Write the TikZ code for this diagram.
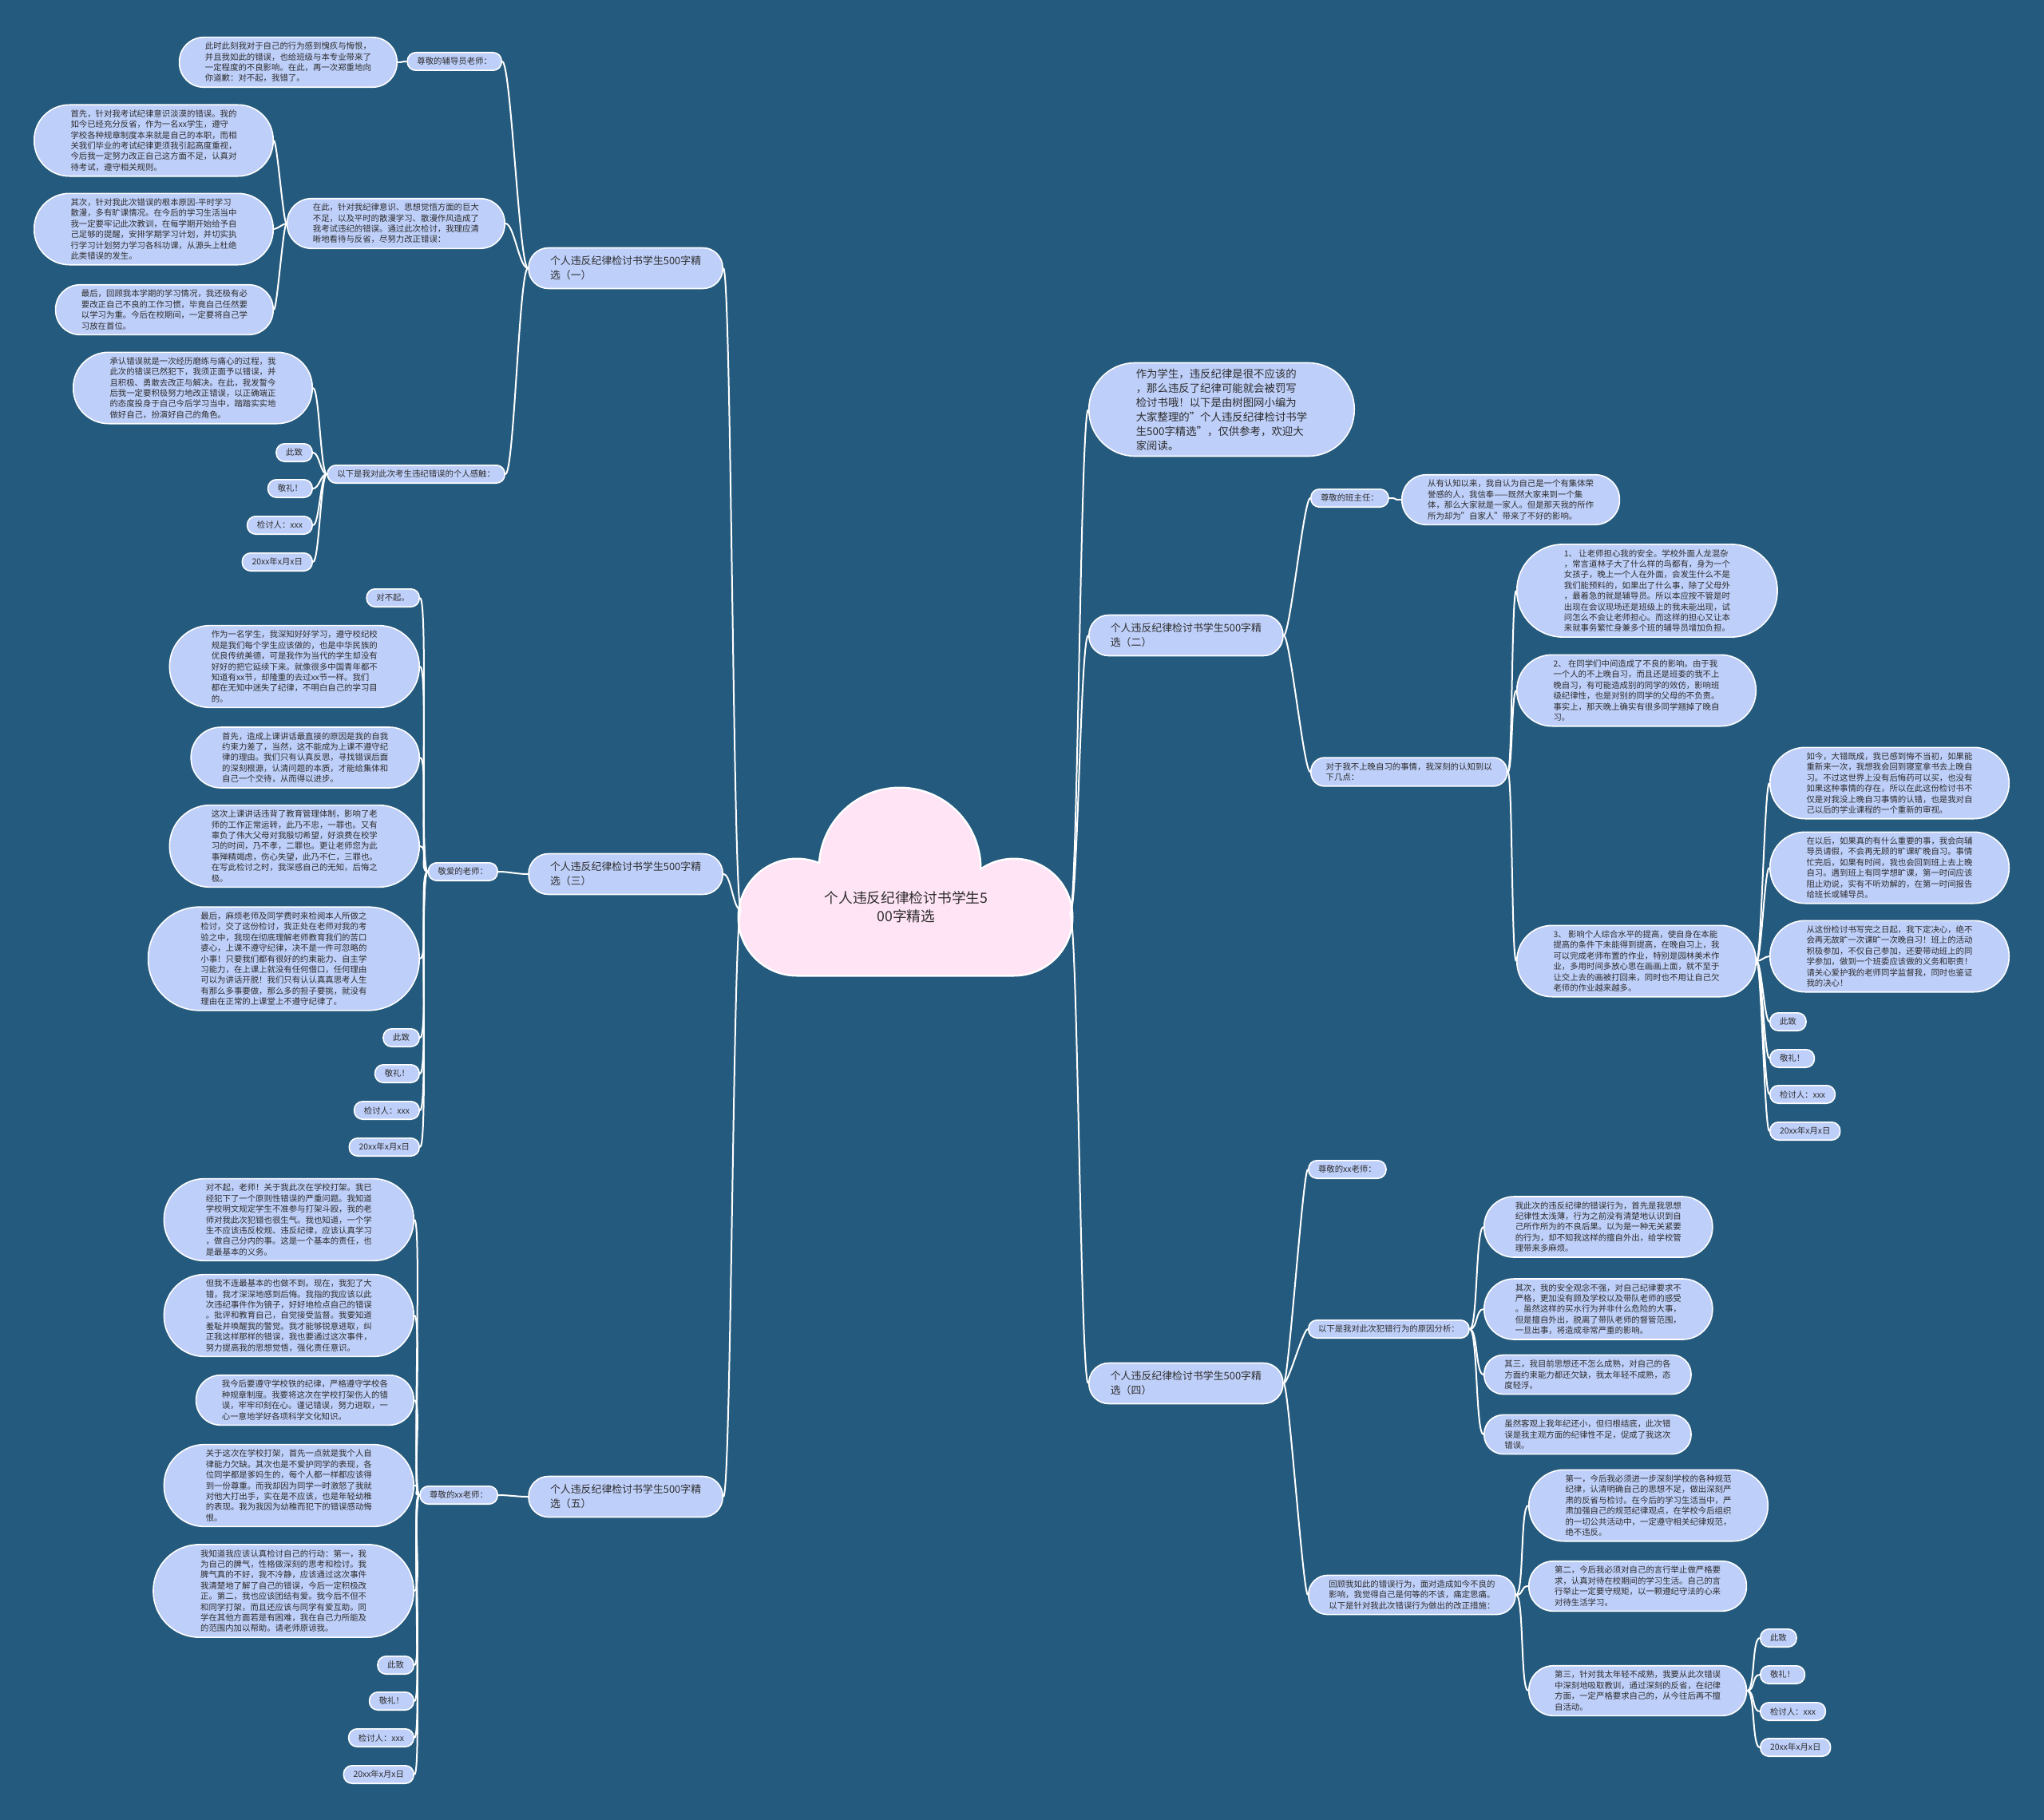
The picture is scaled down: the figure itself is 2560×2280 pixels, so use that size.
\documentclass[tikz,border=0pt]{standalone}
\usepackage{fontspec}
\setmainfont{Noto Sans CJK SC}

\definecolor{bgblue}{RGB}{36,90,125}
\definecolor{pillblue}{RGB}{190,207,249}
\definecolor{cloudpink}{RGB}{255,228,245}
\definecolor{inkgray}{RGB}{45,45,45}

\tikzset{
  pill/.style={rectangle, fill=pillblue, draw=white, line width=1.6pt,
    text=inkgray, align=left, inner ysep=0pt},
  leaf/.style={pill, font=\fontsize{10.4}{13.4}\selectfont,
    minimum height=13.4*#1+9, rounded corners=(13.4*#1+9)/2-0.6,
    inner xsep=(13.4*#1+9)/2+1},
  leaf/.default=1,
  topic/.style={pill, font=\fontsize{12.9}{18}\selectfont,
    minimum height=51, rounded corners=24.9, inner xsep=27},
  intro/.style={pill, font=\fontsize{13.4}{18}\selectfont,
    minimum height=117, rounded corners=57.9, inner xsep=59},
  link/.style={draw=white, line width=2pt},
  lft/.style={out=180, in=0, distance=#1},
  rgt/.style={out=0, in=180, distance=#1},
}

\begin{document}
\begin{tikzpicture}[x=1pt,y=-1pt]
    \fill[bgblue] (0,0) rectangle (2560,2280);
    \useasboundingbox (0,0) rectangle (2560,2280);

    % centre cloud
    \fill[white] (1127,1088) circle (102.5pt) (998,1149) circle (74.5pt)
      (1270,1149) circle (74.5pt) (998,1099) rectangle (1270,1223.5);
    \fill[cloudpink] (1127,1088) circle (100pt) (998,1149) circle (72pt)
      (1270,1149) circle (72pt) (998,1099) rectangle (1270,1221);
    \node[text=inkgray, font=\fontsize{17.7}{23}\selectfont, align=center] (root) at (1135,1136)
      {个人违反纪律检讨书学生5\\00字精选};
    \coordinate (cl) at (928,1140);
    \coordinate (cr) at (1340,1145);

    % branch one
    \node[topic, anchor=east] (b1) at (906,336) {个人违反纪律检讨书学生500字精\\选（一）};
    \node[leaf, anchor=east] (b1a) at (629,77) {尊敬的辅导员老师：};
    \node[leaf=4, anchor=east] (b1a1) at (498,78) {此时此刻我对于自己的行为感到愧疚与悔恨，\\
      并且我如此的错误，也给班级与本专业带来了\\
      一定程度的不良影响。在此，再一次郑重地向\\
      你道歉：对不起，我错了。};
    \node[leaf=4, anchor=east] (b1b) at (633,280) {在此，针对我纪律意识、思想觉悟方面的巨大\\
      不足，以及平时的散漫学习、散漫作风造成了\\
      我考试违纪的错误。通过此次检讨，我理应清\\
      晰地看待与反省，尽努力改正错误：};
    \node[leaf=6, anchor=east] (b1b1) at (343,176) {首先，针对我考试纪律意识淡漠的错误。我的\\
      如今已经充分反省，作为一名xx学生，遵守\\
      学校各种规章制度本来就是自己的本职，而相\\
      关我们毕业的考试纪律更须我引起高度重视，\\
      今后我一定努力改正自己这方面不足，认真对\\
      待考试，遵守相关规则。};
    \node[leaf=6, anchor=east] (b1b2) at (343,287) {其次，针对我此次错误的根本原因-平时学习\\
      散漫，多有旷课情况。在今后的学习生活当中\\
      我一定要牢记此次教训，在每学期开始给予自\\
      己足够的提醒，安排学期学习计划，并切实执\\
      行学习计划努力学习各科功课，从源头上杜绝\\
      此类错误的发生。};
    \node[leaf=4, anchor=east] (b1b3) at (343,388) {最后，回顾我本学期的学习情况，我还极有必\\
      要改正自己不良的工作习惯，毕竟自己任然要\\
      以学习为重。今后在校期间，一定要将自己学\\
      习放在首位。};
    \node[leaf, anchor=east] (b1c) at (633,594) {以下是我对此次考生违纪错误的个人感触：};
    \node[leaf=6, anchor=east] (b1c1) at (392,486) {承认错误就是一次经历磨练与痛心的过程，我\\
      此次的错误已然犯下，我须正面予以错误，并\\
      且积极、勇敢去改正与解决。在此，我发誓今\\
      后我一定要积极努力地改正错误，以正确端正\\
      的态度投身于自己今后学习当中，踏踏实实地\\
      做好自己，扮演好自己的角色。};
    \foreach \t/\y [count=\i from 2] in {此致/567, 敬礼！/612, 检讨人：xxx/658, 20xx年x月x日/704}
      \node[leaf, anchor=east] (b1c\i) at (392,\y) {\t};

    % branch three
    \node[topic, anchor=east] (b3) at (906,1095) {个人违反纪律检讨书学生500字精\\选（三）};
    \node[leaf, anchor=east] (b3a) at (624,1092) {敬爱的老师：};
    \node[leaf, anchor=east] (b3a1) at (526,749) {对不起。};
    \node[leaf=7, anchor=east] (b3a2) at (526,835) {作为一名学生，我深知好好学习，遵守校纪校\\
      规是我们每个学生应该做的，也是中华民族的\\
      优良传统美德，可是我作为当代的学生却没有\\
      好好的把它延续下来。就像很多中国青年都不\\
      知道有xx节，却隆重的去过xx节一样。我们\\
      都在无知中迷失了纪律，不明白自己的学习目\\
      的。};
    \node[leaf=5, anchor=east] (b3a3) at (526,949) {首先，造成上课讲话最直接的原因是我的自我\\
      约束力差了，当然，这不能成为上课不遵守纪\\
      律的理由。我们只有认真反思，寻找错误后面\\
      的深刻根源，认清问题的本质，才能给集体和\\
      自己一个交待，从而得以进步。};
    \node[leaf=7, anchor=east] (b3a4) at (526,1060) {这次上课讲话违背了教育管理体制，影响了老\\
      师的工作正常运转，此乃不忠，一罪也。又有\\
      辜负了伟大父母对我殷切希望，好浪费在校学\\
      习的时间，乃不孝，二罪也。更让老师您为此\\
      事殚精竭虑，伤心失望，此乃不仁，三罪也。\\
      在写此检讨之时，我深感自己的无知，后悔之\\
      极。};
    \node[leaf=9, anchor=east] (b3a5) at (526,1201) {最后，麻烦老师及同学费时来检阅本人所做之\\
      检讨，交了这份检讨，我正处在老师对我的考\\
      验之中，我现在彻底理解老师教育我们的苦口\\
      婆心，上课不遵守纪律，决不是一件可忽略的\\
      小事！只要我们都有很好的约束能力、自主学\\
      习能力，在上课上就没有任何借口，任何理由\\
      可以为讲话开脱！我们只有认认真真思考人生\\
      有那么多事要做，那么多的担子要挑，就没有\\
      理由在正常的上课堂上不遵守纪律了。};
    \foreach \t/\y [count=\i from 6] in {此致/1300, 敬礼！/1345, 检讨人：xxx/1391, 20xx年x月x日/1437}
      \node[leaf, anchor=east] (b3a\i) at (526,\y) {\t};

    % branch five
    \node[topic, anchor=east] (b5) at (906,1875) {个人违反纪律检讨书学生500字精\\选（五）};
    \node[leaf, anchor=east] (b5a) at (624,1873) {尊敬的xx老师：};
    \node[leaf=7, anchor=east] (b5a1) at (519,1528) {对不起，老师！关于我此次在学校打架。我已\\
      经犯下了一个原则性错误的严重问题。我知道\\
      学校明文规定学生不准参与打架斗殴，我的老\\
      师对我此次犯错也很生气。我也知道，一个学\\
      生不应该违反校规、违反纪律，应该认真学习\\
      ，做自己分内的事。这是一个基本的责任，也\\
      是最基本的义务。};
    \node[leaf=7, anchor=east] (b5a2) at (519,1648) {但我不连最基本的也做不到。现在，我犯了大\\
      错，我才深深地感到后悔。我指的我应该以此\\
      次违纪事件作为镜子，好好地检点自己的错误\\
      。批评和教育自己，自觉接受监督。我要知道\\
      羞耻并唤醒我的警觉。我才能够锐意进取，纠\\
      正我这样那样的错误，我也要通过这次事件，\\
      努力提高我的思想觉悟，强化责任意识。};
    \node[leaf=4, anchor=east] (b5a3) at (519,1754) {我今后要遵守学校铁的纪律，严格遵守学校各\\
      种规章制度。我要将这次在学校打架伤人的错\\
      误，牢牢印刻在心。谨记错误，努力进取，一\\
      心一意地学好各项科学文化知识。};
    \node[leaf=7, anchor=east] (b5a4) at (519,1861) {关于这次在学校打架，首先一点就是我个人自\\
      律能力欠缺。其次也是不爱护同学的表现，各\\
      位同学都是爹妈生的，每个人都一样都应该得\\
      到一份尊重。而我却因为同学一时激怒了我就\\
      对他大打出手，实在是不应该，也是年轻幼稚\\
      的表现。我为我因为幼稚而犯下的错误感动悔\\
      恨。};
    \node[leaf=8, anchor=east] (b5a5) at (519,1993) {我知道我应该认真检讨自己的行动：第一，我\\
      为自己的脾气，性格做深刻的思考和检讨。我\\
      脾气真的不好，我不冷静，应该通过这次事件\\
      我清楚地了解了自己的错误，今后一定积极改\\
      正。第二，我也应该团结有爱。我今后不但不\\
      和同学打架，而且还应该与同学有爱互助。同\\
      学在其他方面若是有困难，我在自己力所能及\\
      的范围内加以帮助。请老师原谅我。};
    \foreach \t/\y [count=\i from 6] in {此致/2086, 敬礼！/2131, 检讨人：xxx/2177, 20xx年x月x日/2223}
      \node[leaf, anchor=east] (b5a\i) at (519,\y) {\t};

    % intro
    \node[intro, anchor=west] (intro) at (1363,513) {作为学生，违反纪律是很不应该的\\
      ，那么违反了纪律可能就会被罚写\\
      检讨书哦！以下是由树图网小编为\\
      大家整理的"个人违反纪律检讨书学\\
      生500字精选"，仅供参考，欢迎大\\
      家阅读。};

    % branch two
    \node[topic, anchor=west] (b2) at (1363,796) {个人违反纪律检讨书学生500字精\\选（二）};
    \node[leaf, anchor=west] (b2a) at (1641,624) {尊敬的班主任：};
    \node[leaf=4, anchor=west] (b2a1) at (1755,626) {从有认知以来，我自认为自己是一个有集体荣\\
      誉感的人，我信奉——既然大家来到一个集\\
      体，那么大家就是一家人。但是那天我的所作\\
      所为却为"自家人"带来了不好的影响。};
    \node[leaf=2, anchor=west] (b2b) at (1641,967) {对于我不上晚自习的事情，我深刻的认知到以\\
      下几点：};
    \node[leaf=8, anchor=west] (b2b1) at (1899,740) {1、 让老师担心我的安全。学校外面人龙混杂\\
      ，常言道林子大了什么样的鸟都有，身为一个\\
      女孩子，晚上一个人在外面，会发生什么不是\\
      我们能预料的，如果出了什么事，除了父母外\\
      ，最着急的就是辅导员。所以本应按不管是时\\
      出现在会议现场还是班级上的我未能出现，试\\
      问怎么不会让老师担心。而这样的担心又让本\\
      来就事务繁忙身兼多个班的辅导员增加负担。};
    \node[leaf=6, anchor=west] (b2b2) at (1899,865) {2、 在同学们中间造成了不良的影响。由于我\\
      一个人的不上晚自习，而且还是班委的我不上\\
      晚自习，有可能造成别的同学的效仿，影响班\\
      级纪律性，也是对别的同学的父母的不负责。\\
      事实上，那天晚上确实有很多同学翘掉了晚自\\
      习。};
    \node[leaf=6, anchor=west] (b2b3) at (1899,1204) {3、 影响个人综合水平的提高，使自身在本能\\
      提高的条件下未能得到提高，在晚自习上，我\\
      可以完成老师布置的作业，特别是园林美术作\\
      业，多用时间多放心思在画画上面，就不至于\\
      让交上去的画被打回来，同时也不用让自己欠\\
      老师的作业越来越多。};
    \node[leaf=6, anchor=west] (b2b31) at (2216,981) {如今，大错既成，我已感到悔不当初，如果能\\
      重新来一次，我想我会回到寝室拿书去上晚自\\
      习。不过这世界上没有后悔药可以买，也没有\\
      如果这种事情的存在，所以在此这份检讨书不\\
      仅是对我没上晚自习事情的认错，也是我对自\\
      己以后的学业课程的一个重新的审视。};
    \node[leaf=6, anchor=west] (b2b32) at (2216,1087) {在以后，如果真的有什么重要的事，我会向辅\\
      导员请假，不会再无顾的旷课旷晚自习。事情\\
      忙完后，如果有时间，我也会回到班上去上晚\\
      自习。遇到班上有同学想旷课，第一时间应该\\
      阻止劝说，实有不听劝解的，在第一时间报告\\
      给班长或辅导员。};
    \node[leaf=6, anchor=west] (b2b33) at (2216,1198) {从这份检讨书写完之日起，我下定决心，绝不\\
      会再无故旷一次课旷一次晚自习！班上的活动\\
      积极参加，不仅自己参加，还要带动班上的同\\
      学参加，做到一个班委应该做的义务和职责！\\
      请关心爱护我的老师同学监督我，同时也鉴证\\
      我的决心！};
    \foreach \t/\y [count=\i from 4] in {此致/1280, 敬礼！/1326, 检讨人：xxx/1371, 20xx年x月x日/1417}
      \node[leaf, anchor=west] (b2b3\i) at (2216,\y) {\t};

    % branch four
    \node[topic, anchor=west] (b4) at (1363,1733) {个人违反纪律检讨书学生500字精\\选（四）};
    \node[leaf, anchor=west] (b4a) at (1638,1465) {尊敬的xx老师：};
    \node[leaf, anchor=west] (b4b) at (1638,1665) {以下是我对此次犯错行为的原因分析：};
    \node[leaf=5, anchor=west] (b4b1) at (1858,1537) {我此次的违反纪律的错误行为，首先是我思想\\
      纪律性太浅薄，行为之前没有清楚地认识到自\\
      己所作所为的不良后果。以为是一种无关紧要\\
      的行为，却不知我这样的擅自外出，给学校管\\
      理带来多麻烦。};
    \node[leaf=5, anchor=west] (b4b2) at (1858,1640) {其次，我的安全观念不强，对自己纪律要求不\\
      严格，更加没有顾及学校以及带队老师的感受\\
      。虽然这样的买水行为并非什么危险的大事，\\
      但是擅自外出，脱离了带队老师的督管范围，\\
      一旦出事，将造成非常严重的影响。};
    \node[leaf=3, anchor=west] (b4b3) at (1858,1722) {其三，我目前思想还不怎么成熟，对自己的各\\
      方面约束能力都还欠缺，我太年轻不成熟，态\\
      度轻浮。};
    \node[leaf=3, anchor=west] (b4b4) at (1858,1797) {虽然客观上我年纪还小，但归根结底，此次错\\
      误是我主观方面的纪律性不足，促成了我这次\\
      错误。};
    \node[leaf=3, anchor=west] (b4c) at (1638,1998) {回顾我如此的错误行为，面对造成如今不良的\\
      影响，我觉得自己是何等的不该，痛定思痛。\\
      以下是针对我此次错误行为做出的改正措施：};
    \node[leaf=6, anchor=west] (b4c1) at (1914,1886) {第一，今后我必须进一步深刻学校的各种规范\\
      纪律，认清明确自己的思想不足，做出深刻严\\
      肃的反省与检讨。在今后的学习生活当中，严\\
      肃加强自己的规范纪律观点，在学校今后组织\\
      的一切公共活动中，一定遵守相关纪律规范，\\
      绝不违反。};
    \node[leaf=4, anchor=west] (b4c2) at (1914,1987) {第二，今后我必须对自己的言行举止做严格要\\
      求，认真对待在校期间的学习生活。自己的言\\
      行举止一定要守规矩，以一颗遵纪守法的心来\\
      对待生活学习。};
    \node[leaf=4, anchor=west] (b4c3) at (1914,2118) {第三，针对我太年轻不成熟，我要从此次错误\\
      中深刻地吸取教训，通过深刻的反省，在纪律\\
      方面，一定严格要求自己的，从今往后再不擅\\
      自活动。};
    \foreach \t/\y [count=\i from 1] in {此致/2052, 敬礼！/2098, 检讨人：xxx/2144, 20xx年x月x日/2189}
      \node[leaf, anchor=west] (b4c3\i) at (2204,\y) {\t};

    % connectors, left half
    \foreach \b in {b1,b3,b5}
      \draw[link] (cl) to[lft=10pt] (\b.east);
    \foreach \c in {b1a,b1b,b1c}
      \draw[link] (b1.west) to[lft=11pt] (\c.east);
    \draw[link] (b1a.west) to[lft=8pt] (b1a1.east);
    \foreach \i in {1,2,3}
      \draw[link] (b1b.west) to[lft=4pt] (b1b\i.east);
    \foreach \i in {1,...,5}
      \draw[link] (b1c.west) to[lft=8pt] (b1c\i.east);
    \draw[link] (b3.west) to[lft=14pt] (b3a.east);
    \foreach \i in {1,...,9}
      \draw[link] (b3a.west) to[lft=11pt] (b3a\i.east);
    \draw[link] (b5.west) to[lft=14pt] (b5a.east);
    \foreach \i in {1,...,9}
      \draw[link] (b5a.west) to[lft=10pt] (b5a\i.east);

    % connectors, right half
    \foreach \b in {intro,b2,b4}
      \draw[link] (cr) to[rgt=10pt] (\b.west);
    \foreach \c in {b2a,b2b}
      \draw[link] (b2.east) to[rgt=8pt] (\c.west);
    \draw[link] (b2a.east) to[rgt=14pt] (b2a1.west);
    \foreach \i in {1,2,3}
      \draw[link] (b2b.east) to[rgt=6pt] (b2b\i.west);
    \foreach \i in {1,...,7}
      \draw[link] (b2b3.east) to[rgt=6pt] (b2b3\i.west);
    \foreach \c in {b4a,b4b,b4c}
      \draw[link] (b4.east) to[rgt=6pt] (\c.west);
    \foreach \i in {1,...,4}
      \draw[link] (b4b.east) to[rgt=10pt] (b4b\i.west);
    \foreach \i in {1,2,3}
      \draw[link] (b4c.east) to[rgt=10pt] (b4c\i.west);
    \foreach \i in {1,...,4}
      \draw[link] (b4c3.east) to[rgt=10pt] (b4c3\i.west);

  \end{tikzpicture}
\end{document}
